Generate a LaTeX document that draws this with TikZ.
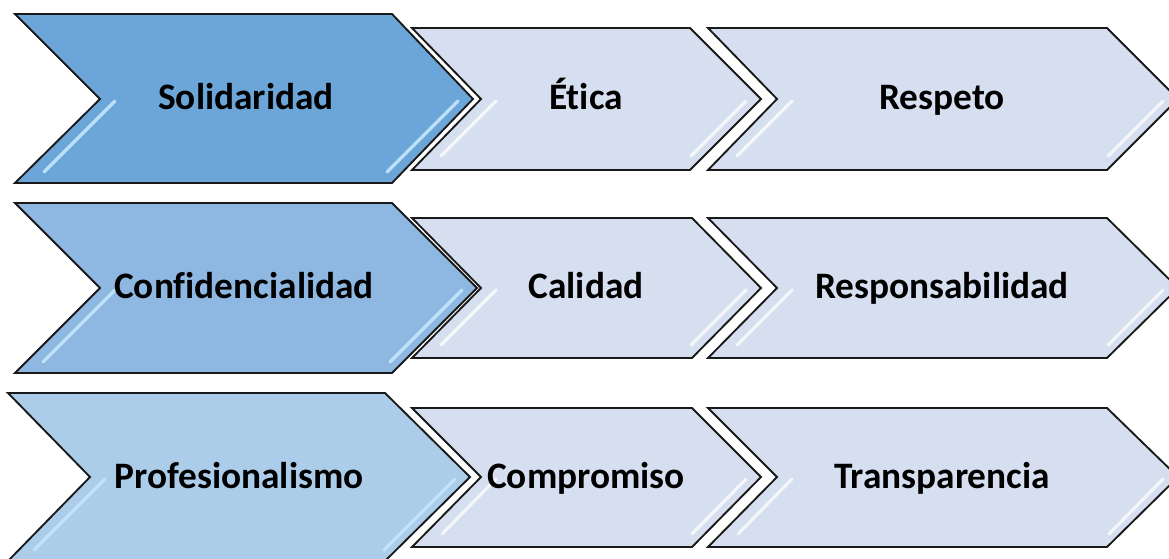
\documentclass[tikz,border=0pt]{standalone}
\usepackage{fontspec}
\setmainfont{Carlito}[Ligatures=NoCommon]
\usepackage{tikz}
\usepackage{xcolor}

\definecolor{darkblue}{RGB}{108,165,216}
\definecolor{midblue}{RGB}{142,184,226}
\definecolor{softblue}{RGB}{172,205,233}
\definecolor{paleblue}{RGB}{214,223,239}
\definecolor{glowblue}{RGB}{196,230,252}

\begin{document}
\begin{tikzpicture}[x=0.75pt,y=0.75pt,yscale=-1,xscale=1,
  chev/.style={draw={rgb, 255:red, 25; green, 25; blue, 25},line width=1.4,line join=miter},
  shine/.style={draw=white,opacity=0.75,line width=2.4,line cap=round},
  glint/.style={draw=glowblue,opacity=0.9,line width=2.4,line cap=round},
  valtext/.style={anchor=base,inner sep=0.75pt,font=\fontsize{28}{33}\selectfont\bfseries}]
\useasboundingbox (0,0) rectangle (1169,559);
\clip (0,0) rectangle (1169,559);

%Row 1
%Shape: Chevron [Respeto]
\draw [chev,fill=paleblue] (708,28) -- (1107,28) -- (1178,99) -- (1107,170) -- (708,170) -- (777,99) -- cycle ;
\draw [shine] (792,101) -- (737,156) ;
\draw [shine] (1163,101) -- (1108,156) ;
%Shape: Chevron [Etica]
\draw [chev,fill=paleblue] (412,28) -- (690,28) -- (761,99) -- (690,170) -- (412,170) -- (481,99) -- cycle ;
\draw [shine] (496,101) -- (441,156) ;
\draw [shine] (746,101) -- (691,156) ;
%Shape: Chevron [Solidaridad]
\draw [chev,fill=darkblue] (15,14) -- (392,14) -- (473,99) -- (392,183) -- (15,183) -- (100,99) -- cycle ;
\draw [glint] (115,101) -- (44,172) ;
\draw [glint] (458,101) -- (387,172) ;

%Row 2
%Shape: Chevron [Responsabilidad]
\draw [chev,fill=paleblue] (708,218) -- (1107,218) -- (1178,288) -- (1107,358) -- (708,358) -- (777,288) -- cycle ;
\draw [shine] (792,290) -- (737,345) ;
\draw [shine] (1163,290) -- (1108,345) ;
%Shape: Chevron [Calidad]
\draw [chev,fill=paleblue] (412,218) -- (692,218) -- (761,288) -- (692,358) -- (412,358) -- (481,288) -- cycle ;
\draw [shine] (496,290) -- (441,345) ;
\draw [shine] (746,290) -- (691,345) ;
%Shape: Chevron [Confidencialidad]
\draw [chev,fill=midblue] (15,203) -- (392,203) -- (477,288) -- (392,373) -- (15,373) -- (100,288) -- cycle ;
\draw [glint] (115,290) -- (43,362) ;
\draw [glint] (462,290) -- (390,362) ;

%Row 3
%Shape: Chevron [Transparencia]
\draw [chev,fill=paleblue] (708,408) -- (1107,408) -- (1178,477) -- (1107,547) -- (708,547) -- (777,477) -- cycle ;
\draw [shine] (792,479) -- (738,534) ;
\draw [shine] (1163,479) -- (1109,534) ;
%Shape: Chevron [Compromiso]
\draw [chev,fill=paleblue] (412,408) -- (692,408) -- (761,477) -- (692,547) -- (412,547) -- (481,477) -- cycle ;
\draw [shine] (496,479) -- (442,534) ;
\draw [shine] (746,479) -- (692,534) ;
%Shape: Chevron [Profesionalismo]
\draw [chev,fill=softblue] (8,393) -- (385,393) -- (470,477) -- (385,561) -- (8,561) -- (90,477) -- cycle ;
\draw [glint] (105,479) -- (34,550) ;
\draw [glint] (455,479) -- (384,550) ;

% Text Node
\node [valtext] (solidaridad) at (246,110) {Solidaridad};
% Text Node
\node [valtext] (etica) at (586,110) {Ética};
% Text Node
\node [valtext] (respeto) at (942,110) {Respeto};
% Text Node
\node [valtext] (confidencialidad) at (244,299) {Confidencialidad};
% Text Node
\node [valtext] (calidad) at (586,299) {Calidad};
% Text Node
\node [valtext] (responsabilidad) at (942,299) {Responsabilidad};
% Text Node
\node [valtext] (profesionalismo) at (239,488) {Profesionalismo};
% Text Node
\node [valtext] (compromiso) at (586,488) {Compromiso};
% Text Node
\node [valtext] (transparencia) at (942,488) {Transparencia};
\end{tikzpicture}
\end{document}
